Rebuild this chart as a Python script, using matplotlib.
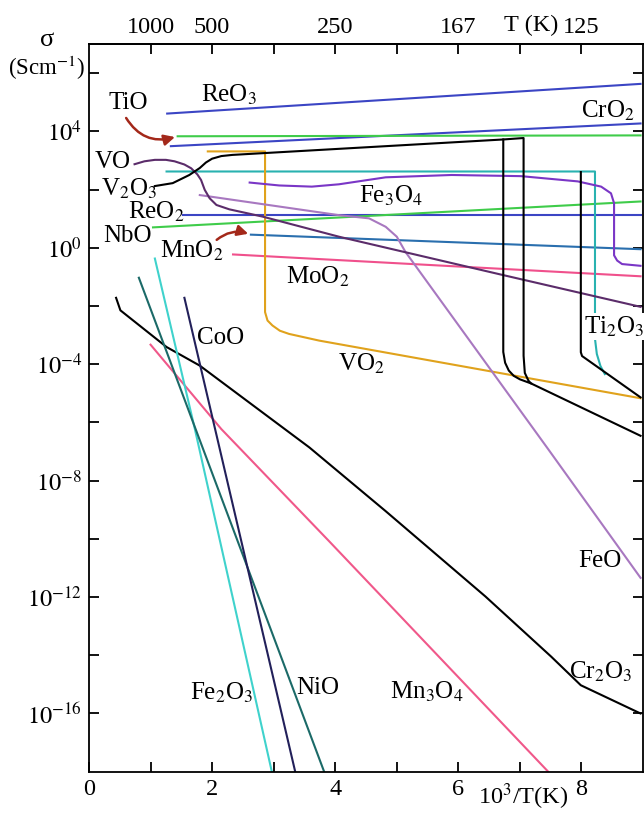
import numpy as np
import matplotlib
matplotlib.use('Agg')
import matplotlib.pyplot as plt
from matplotlib.ticker import FixedLocator, NullFormatter

plt.rcParams['font.family'] = ['Liberation Serif', 'DejaVu Serif']
plt.rcParams['mathtext.fontset'] = 'stix'

# x = 10^3/T (1/K), y = log10(sigma / S cm^-1)

reo3_x = [1.27, 8.96]
reo3_y = [4.61, 5.63]
cro2_x = [1.33, 8.96]
cro2_y = [3.49, 4.27]
tio_x = [1.44, 8.96]
tio_y = [3.83, 3.86]
reo2_x = [1.52, 8.96]
reo2_y = [1.12, 1.12]
nbo_x = [1.04, 8.96]
nbo_y = [0.70, 1.59]
mno2_x = [2.63, 8.96]
mno2_y = [0.45, -0.05]
moo2_x = [2.34, 8.96]
moo2_y = [-0.23, -0.98]

# V2O3: hysteresis loop around 150 K
v2o3_x = [1.07, 1.36, 1.63, 1.80, 1.90, 2.00, 2.15, 2.33, 6.73, 7.06, 7.06, 7.08, 7.14, 7.18, 8.96]
v2o3_y = [2.12, 2.22, 2.50, 2.74, 2.93, 3.06, 3.15, 3.19, 3.72, 3.77, -3.71, -4.30, -4.57, -4.66, -6.46]
v2o3b_x = [6.73, 6.73, 6.76, 6.82, 6.90, 7.00, 7.18]
v2o3b_y = [3.72, -3.58, -3.95, -4.22, -4.40, -4.52, -4.66]

vo2_x = [1.93, 2.86, 2.86, 2.90, 2.98, 3.10, 3.25, 3.74, 8.96]
vo2_y = [3.31, 3.31, -2.21, -2.50, -2.67, -2.85, -2.96, -3.19, -5.17]

vo_x = [0.74, 0.90, 1.07, 1.25, 1.39, 1.55, 1.66, 1.76, 1.82, 1.88, 1.96, 2.07, 2.28, 2.82, 4.06, 6.73, 8.96]
vo_y = [2.87, 2.97, 3.02, 3.02, 2.97, 2.86, 2.73, 2.52, 2.33, 1.99, 1.70, 1.47, 1.32, 1.07, 0.38, -0.94, -2.03]

# sharp drop near 120 K (teal curve next to the Ti2O3 label)
teal_x = [1.26, 8.22, 8.22, 8.25, 8.31, 8.38]
teal_y = [2.62, 2.62, -3.13, -3.65, -4.07, -4.34]
blk2_x = [7.99, 7.99, 8.01, 8.96]
blk2_y = [2.60, -3.59, -3.72, -5.14]

fe3o4_x = [2.61, 3.09, 3.62, 4.06, 4.82, 5.89, 7.02, 7.94, 8.32, 8.48, 8.53, 8.53, 8.58, 8.66, 8.96]
fe3o4_y = [2.24, 2.14, 2.10, 2.18, 2.42, 2.50, 2.46, 2.28, 2.10, 1.87, 1.53, -0.26, -0.44, -0.56, -0.62]

feo_x = [1.80, 4.06, 4.55, 4.82, 5.00, 5.14, 7.46, 8.96]
feo_y = [1.81, 1.12, 1.01, 0.72, 0.38, -0.14, -6.92, -11.34]

cr2o3_x = [0.44, 0.51, 1.26, 1.80, 3.58, 4.82, 6.44, 7.51, 7.99, 8.96]
cr2o3_y = [-1.72, -2.15, -3.41, -4.05, -6.86, -9.05, -11.98, -14.05, -15.03, -16.0]

coo_x = [1.55, 3.35]
coo_y = [-1.72, -18.0]
nio_x = [0.81, 3.82]
nio_y = [-1.03, -18.0]
fe2o3_x = [1.07, 1.72, 2.97]
fe2o3_y = [-0.37, -6.23, -18.0]
mn3o4_x = [1.00, 2.15, 3.90, 7.46]
mn3o4_y = [-3.33, -6.23, -10.08, -18.0]

labels = ['ReO$_3$', 'TiO', 'CrO$_2$', 'VO', 'V$_2$O$_3$', 'Fe$_3$O$_4$', 'ReO$_2$', 'NbO',
          'MnO$_2$', 'MoO$_2$', 'CoO', 'VO$_2$', 'Ti$_2$O$_3$', 'FeO', 'Cr$_2$O$_3$',
          'Mn$_3$O$_4$', 'NiO', 'Fe$_2$O$_3$']
label_x = [2.28, 0.63, 8.43, 0.39, 0.65, 4.90, 1.10, 0.62, 1.67, 3.71, 2.14, 4.42, 8.53, 8.30, 8.32, 5.49, 3.71, 2.15]
label_y = [5.25, 4.97, 4.72, 2.94, 2.04, 1.80, 1.22, 0.41, -0.09, -0.99, -3.09, -3.99, -2.71, -10.75, -14.58, -15.27, -15.13, -15.3]

top_ticks = [1, 2, 3, 4, 5, 6, 7, 8]
top_labels = ['1000', '500', '', '250', '', '167', '', '125']
bot_ticks = [0, 1, 2, 3, 4, 5, 6, 7, 8]
bot_labels = ['0', '', '2', '', '4', '', '6', '', '8']
y_major = [4, 0, -4, -8, -12, -16]
y_minor = [6, 2, -2, -6, -10, -14]


def sig(v):
    return 10.0 ** np.asarray(v, dtype=float)


fig = plt.figure(figsize=(6.44, 8.13), dpi=100)
ax = fig.add_axes([89 / 644, 1 - 771.7 / 813, (643 - 89) / 644, (771.7 - 44) / 813])
ax.set_yscale('log')

lw = 1.5
ax.plot(reo3_x, sig(reo3_y), color='#3b45c4', lw=lw)
ax.plot(cro2_x, sig(cro2_y), color='#3b45c4', lw=lw)
ax.plot(reo2_x, sig(reo2_y), color='#3b45c4', lw=lw)
ax.plot(tio_x, sig(tio_y), color='#3fcc4a', lw=lw)
ax.plot(nbo_x, sig(nbo_y), color='#3fcc4a', lw=lw)
ax.plot(mno2_x, sig(mno2_y), color='#2a6fae', lw=lw)
ax.plot(moo2_x, sig(moo2_y), color='#f0508c', lw=lw)
ax.plot(teal_x, sig(teal_y), color='#29b2b0', lw=lw)
ax.plot(vo2_x, sig(vo2_y), color='#e0a21c', lw=lw)
ax.plot(fe3o4_x, sig(fe3o4_y), color='#7a36c6', lw=lw)
ax.plot(feo_x, sig(feo_y), color='#a878c0', lw=lw)
ax.plot(vo_x, sig(vo_y), color='#5b2c6a', lw=lw)
ax.plot(v2o3_x, sig(v2o3_y), color='black', lw=lw)
ax.plot(v2o3b_x, sig(v2o3b_y), color='black', lw=lw)
ax.plot(blk2_x, sig(blk2_y), color='black', lw=lw)
ax.plot(cr2o3_x, sig(cr2o3_y), color='black', lw=lw)
ax.plot(mn3o4_x, sig(mn3o4_y), color='#f0588a', lw=lw)
ax.plot(fe2o3_x, sig(fe2o3_y), color='#3fd2cc', lw=lw)
ax.plot(nio_x, sig(nio_y), color='#1b6a68', lw=lw)
ax.plot(coo_x, sig(coo_y), color='#22205a', lw=lw)

for t, lx, ly in zip(labels, label_x, label_y):
    kw = {}
    if t.startswith('Ti$_2$'):
        kw['bbox'] = dict(facecolor='white', edgecolor='none', pad=1)
    ax.text(lx, sig(ly), t, fontsize=18, ha='center', va='center', **kw)

# red arrows for TiO and MnO2
ax.annotate('', xy=(tio_x[0], sig(tio_y[0])), xytext=(0.58, sig(4.54)),
            arrowprops=dict(arrowstyle='-|>', color='#a3281a', lw=1.8,
                            connectionstyle='arc3,rad=0.4', mutation_scale=16))
ax.annotate('', xy=(mno2_x[0], sig(mno2_y[0])), xytext=(2.04, sig(0.21)),
            arrowprops=dict(arrowstyle='-|>', color='#a3281a', lw=1.8,
                            connectionstyle='arc3,rad=-0.3', mutation_scale=16))

ax.set_xlim(0, 9)
ax.set_ylim(1e-18, 1e7)

ax.set_xticks(bot_ticks, bot_labels)
ax.yaxis.set_major_locator(FixedLocator(sig(y_major)))
ax.yaxis.set_minor_locator(FixedLocator(sig(y_minor)))
ax.set_yticklabels([r'$10^{%d}$' % v for v in y_major])
ax.yaxis.set_minor_formatter(NullFormatter())
ax.tick_params(which='both', direction='in', length=7, width=1.3, labelsize=17.5,
               right=True, pad=5)

sec = ax.secondary_xaxis('top')
sec.set_xticks(top_ticks, top_labels)
sec.tick_params(direction='in', length=7, width=1.3, labelsize=17.5, pad=4)

for s in ax.spines.values():
    s.set_linewidth(1.3)
for s in sec.spines.values():
    s.set_linewidth(1.3)

fig.text(47 / 644, 1 - 40 / 813, 'σ', fontsize=19, ha='center', va='center')
fig.text(47 / 644, 1 - 68 / 813, '(Scm$^{-1}$)', fontsize=16.5, ha='center', va='center')
fig.text(531 / 644, 1 - 25 / 813, 'T (K)', fontsize=17.5, ha='center', va='center')
fig.text(523 / 644, 1 - 797 / 813, '10$^3$/T(K)', fontsize=17.5, ha='center', va='center')

fig.savefig('out.png', dpi=100)
